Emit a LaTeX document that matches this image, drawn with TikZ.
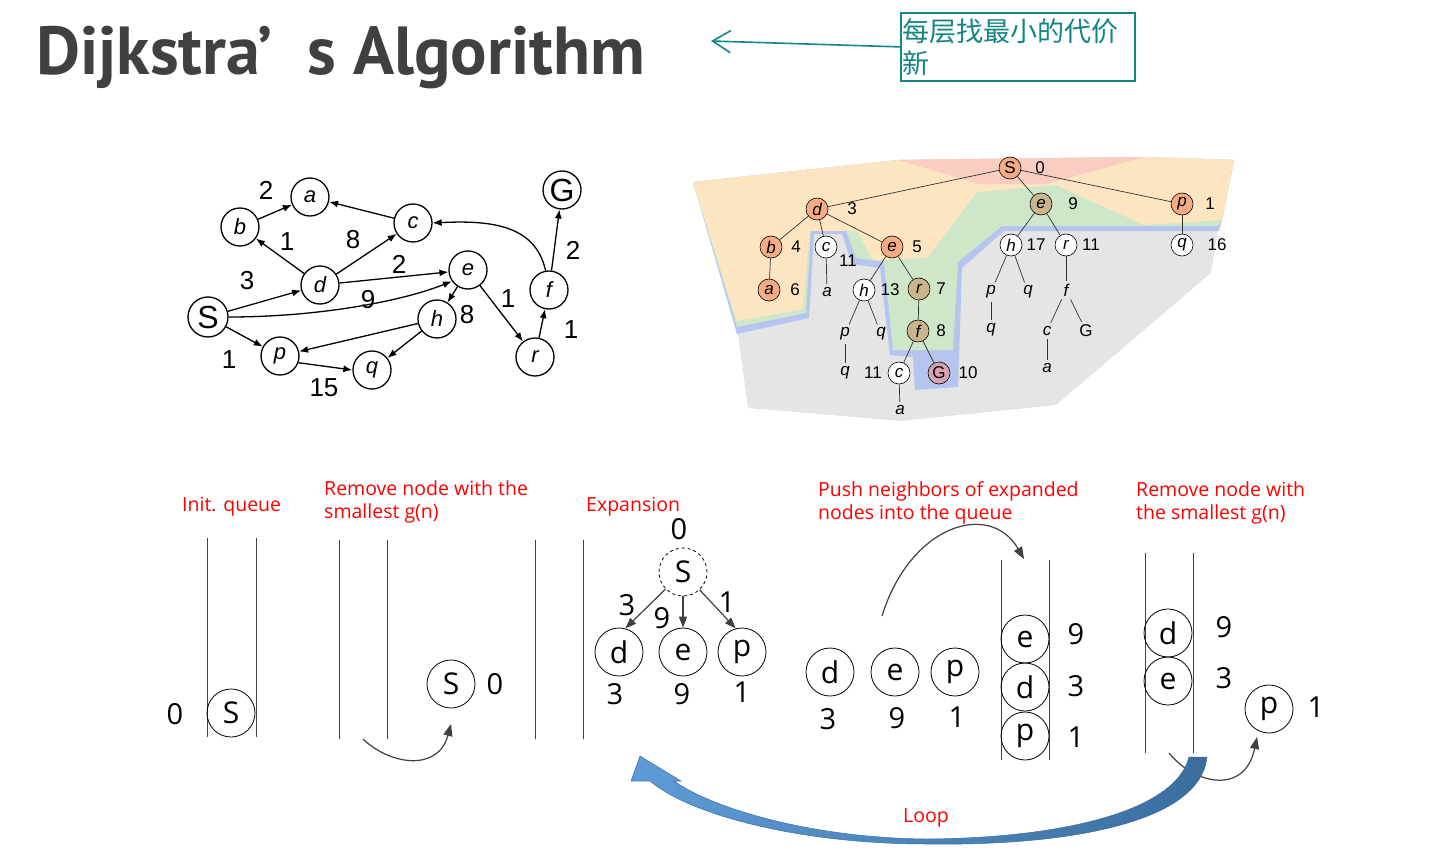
\documentclass[tikz,border=0pt]{standalone}
\usepackage{fontspec}
\setmainfont{Liberation Sans}
\newfontfamily\opensans{Open Sans}
\newfontfamily\ptsans{PT Sans}
\newfontfamily\cjk{Noto Sans CJK SC}
\usetikzlibrary{arrows.meta}
\definecolor{titlegray}{HTML}{404040}
\definecolor{noteteal}{HTML}{128584}
\definecolor{zoneorange}{HTML}{FDE5C2}
\definecolor{zonegreen}{HTML}{CFE7C9}
\definecolor{zoneblue}{HTML}{B5C5F0}
\definecolor{zonegray}{HTML}{E5E5E5}
\definecolor{zonepink}{HTML}{F9CDC0}
\definecolor{nodeorange}{HTML}{F5AB85}
\definecolor{nodetan}{HTML}{C9B48C}
\definecolor{nodepink}{HTML}{D8A2B2}
\definecolor{looplight}{HTML}{5E9BD6}
\definecolor{loopdark}{HTML}{3B6E9F}

\begin{document}
\begin{tikzpicture}[x=1pt,y=-1pt,
  gnode/.style={circle,draw,line width=1.3pt,minimum size=38pt,inner sep=0pt,font=\fontsize{22}{22}\selectfont\itshape},
  gbig/.style={gnode,minimum size=40pt,font=\fontsize{32}{32}\selectfont},
  gnum/.style={inner sep=0pt,font=\fontsize{26}{26}\selectfont},
  gedge/.style={-{Latex[length=9pt,width=7pt]},line width=1.3pt},
  tnode/.style={circle,draw,line width=.6pt,minimum size=22pt,inner sep=0pt,fill=white,font=\fontsize{17}{17}\selectfont\itshape},
  torange/.style={tnode,fill=nodeorange},
  ttan/.style={tnode,fill=nodetan},
  tword/.style={inner sep=3pt,font=\fontsize{17}{17}\selectfont\itshape},
  tnum/.style={inner sep=0pt,font=\fontsize{17}{17}\selectfont},
  tline/.style={line width=.7pt,draw=black!80},
  qnode/.style={circle,draw,line width=.8pt,minimum size=48pt,inner sep=0pt,font=\opensans\fontsize{30}{30}\selectfont},
  qnum/.style={inner sep=0pt,font=\opensans\fontsize{29}{29}\selectfont},
  qwall/.style={line width=.9pt,draw=black!75},
  qarrow/.style={-{Triangle[length=12pt,width=9pt]},line width=1.2pt,draw=black!75},
  redlab/.style={text=red,font=\opensans\fontsize{19.5}{23}\selectfont,align=left,anchor=north west,inner sep=0pt},
  notebox/.style={draw=noteteal,line width=1.8pt,text=noteteal,font=\cjk\fontsize{27}{32}\selectfont,align=left,text width=230pt,inner xsep=2pt,inner ysep=2pt,minimum height=68pt,anchor=north west}
]
\useasboundingbox (0,0) rectangle (1454,864);

% title and note
\node[anchor=base west,inner sep=0pt,text=titlegray,font=\ptsans\bfseries\fontsize{68}{68}\selectfont] (title) at (36,75) {Dijkstra’\hspace{35pt}s Algorithm};
\node[notebox] (note) at (900,12) {每层找最小的代价\\新};
\coordinate (notetip) at (711,41);
\draw[draw=noteteal,line width=1.6pt,-{Straight Barb[length=18pt,width=22pt]}] (note.west) -- (notetip);

% graph
\node[gbig] (gS) at (208,317) {S};
\node[gnode] (ga) at (310,197) {a};
\node[gnode] (gb) at (240,227) {b};
\node[gnode] (gc) at (413,223) {c};
\node[gnode] (gd) at (320,285) {d};
\node[gnode] (ge) at (468,270) {e};
\node[gnode] (gh) at (437,319) {h};
\node[gnode] (gp) at (280,356) {p};
\node[gnode] (gq) at (372,370) {q};
\node[gnode] (gr) at (535,357) {r};
\node[gnode] (gf) at (549,290) {f};
\node[gbig,minimum size=38pt] (gG) at (562,190) {G};
\draw[gedge] (gb) -- (ga);
\draw[gedge] (gc) -- (ga);
\draw[gedge] (gd) -- (gb);
\draw[gedge] (gd) -- (gc);
\draw[gedge] (gd) -- (ge);
\draw[gedge] (gS) -- (gd);
\draw[gedge] (gS.east) .. controls +(90,0) and +(-50,20) .. (ge.215);
\draw[gedge] (ge) -- (gh);
\draw[gedge] (ge) -- (gr);
\draw[gedge] (gh) -- (gp);
\draw[gedge] (gh) -- (gq);
\draw[gedge] (gS) -- (gp);
\draw[gedge] (gp.-20) -- (gq.west);
\draw[gedge] (gr) -- (gf);
\draw[gedge] (gf) -- (gG);
\draw[gedge] (gf.100) .. controls +(-10,-45) and +(60,-3) .. (gc.east);
\node[gnum] (w1) at (266,190) {2};
\node[gnum] (w2) at (287,242) {1};
\node[gnum] (w3) at (353,240) {8};
\node[gnum] (w4) at (247,281) {3};
\node[gnum] (w5) at (399,264) {2};
\node[gnum] (w6) at (368,300) {9};
\node[gnum] (w7) at (467,315) {8};
\node[gnum] (w8) at (508,299) {1};
\node[gnum] (w9) at (573,250) {2};
\node[gnum] (w10) at (571,330) {1};
\node[gnum] (w11) at (229,360) {1};
\node[gnum] (w12) at (324,388) {15};

% search tree zones
\fill[zonegray] (693,182) -- (898,160) -- (1144,157) -- (1234,160) -- (1222,220) -- (1218,228) -- (1211,273) -- (1056,405) -- (901,421) -- (748,408) -- (737,327) -- cycle;
\fill[zoneblue] (693,182) -- (898,160) -- (1144,157) -- (1234,160) -- (1222,220) -- (1219,231) -- (1004,231) -- (962,268) -- (958,387) -- (915,390) -- (913,357) -- (890,355) -- (880,268) -- (852,264) -- (842,234) -- (814,234) -- (809,318) -- (737,334) -- cycle;
\fill[zonegreen] (693,182) -- (898,160) -- (1144,157) -- (1234,160) -- (1222,220) -- (1218,226) -- (1002,226) -- (958,262) -- (953,350) -- (893,350) -- (884,262) -- (856,258) -- (846,231) -- (811,230) -- (806,313) -- (737,327) -- cycle;
\fill[zoneorange] (693,182) -- (898,160) -- (1144,157) -- (1234,160) -- (1222,220) -- (1144,225) -- (1056,185) -- (977,192) -- (927,258) -- (873,260) -- (857,231) -- (810,231) -- (803,309) -- (737,321) -- cycle;
\fill[zonepink] (898,160) -- (1144,157) -- (1046,184) -- (979,184) -- cycle;

% search tree
\node[torange,font=\fontsize{17}{17}\selectfont] (tS) at (1010,168) {S};
\node[torange] (td) at (817,209) {d};
\node[ttan] (te9) at (1041,204) {e};
\node[torange] (tp1) at (1182,204) {p};
\node[torange] (tb) at (771,247) {b};
\node[tnode] (tc11) at (826,247) {c};
\node[torange] (te5) at (892,247) {e};
\node[tnode] (th17) at (1011,245) {h};
\node[tnode] (tr11) at (1066,245) {r};
\node[tnode] (tq16) at (1182,245) {q};
\node[torange] (ta6) at (769,290) {a};
\node[tword] (xa1) at (827,292) {a};
\node[tnode] (th13) at (864,290) {h};
\node[ttan] (tr7) at (919,289) {r};
\node[tword] (xp1) at (991,292) {p};
\node[tword] (xq1) at (1028,292) {q};
\node[tword] (xf1) at (1066,290) {f};
\node[tword] (xp2) at (845,334) {p};
\node[tword] (xq2) at (881,334) {q};
\node[ttan] (tf8) at (918,331) {f};
\node[tword] (xq3) at (991,330) {q};
\node[tword] (xc1) at (1047,331) {c};
\node[tword,font=\fontsize{17}{17}\selectfont] (xG1) at (1086,331) {G};
\node[tword] (xq4) at (845,373) {q};
\node[tnode] (tc3) at (899,373) {c};
\node[tnode,fill=nodepink,font=\fontsize{17}{17}\selectfont] (tG) at (939,373) {G};
\node[tword] (xa2) at (1047,368) {a};
\node[tword] (xa3) at (900,410) {a};
\draw[tline] (tS) -- (td);
\draw[tline] (tS) -- (te9);
\draw[tline] (tS) -- (tp1);
\draw[tline] (td) -- (tb);
\draw[tline] (td) -- (tc11);
\draw[tline] (td) -- (te5);
\draw[tline] (tb) -- (ta6);
\draw[tline] (tc11) -- (xa1);
\draw[tline] (te5) -- (th13);
\draw[tline] (te5) -- (tr7);
\draw[tline] (th13) -- (xp2);
\draw[tline] (th13) -- (xq2);
\draw[tline] (xp2) -- (xq4);
\draw[tline] (tr7) -- (tf8);
\draw[tline] (tf8) -- (tc3);
\draw[tline] (tf8) -- (tG);
\draw[tline] (tc3) -- (xa3);
\draw[tline] (te9) -- (th17);
\draw[tline] (te9) -- (tr11);
\draw[tline] (th17) -- (xp1);
\draw[tline] (th17) -- (xq1);
\draw[tline] (xp1) -- (xq3);
\draw[tline] (tr11) -- (xf1);
\draw[tline] (xf1) -- (xc1);
\draw[tline] (xf1) -- (xG1);
\draw[tline] (xc1) -- (xa2);
\draw[tline] (tp1) -- (tq16);
\node[tnum] (n0) at (1040,168) {0};
\node[tnum] (n3) at (852,209) {3};
\node[tnum] (n9) at (1073,204) {9};
\node[tnum] (n1) at (1210,204) {1};
\node[tnum] (n4) at (796,247) {4};
\node[tnum] (n11a) at (848,261) {11};
\node[tnum] (n5) at (917,247) {5};
\node[tnum] (n17) at (1036,245) {17};
\node[tnum] (n11b) at (1091,245) {11};
\node[tnum] (n16) at (1217,245) {16};
\node[tnum] (n6) at (795,290) {6};
\node[tnum] (n13) at (890,290) {13};
\node[tnum] (n7) at (941,289) {7};
\node[tnum] (n8) at (941,331) {8};
\node[tnum] (n11c) at (873,373) {11};
\node[tnum] (n10) at (968,373) {10};

% red captions
\node[redlab] (cap1) at (182,496.5) {Init. queue};
\node[redlab] (cap2) at (324,480.5) {Remove node with the\\smallest g(n)};
\node[redlab] (cap3) at (586,497) {Expansion};
\node[redlab] (cap4) at (818,481.5) {Push neighbors of expanded\\nodes into the queue};
\node[redlab] (cap5) at (1136,481.5) {Remove node with\\the smallest g(n)};

% queue walls
\foreach \wx/\wt/\wb in {207/538/737, 256/538/737, 339/540/739, 387/540/739, 535/540/739, 583/540/739, 1001/560/760, 1049/560/760, 1145/553/753, 1193/553/753}
  \draw[qwall] (\wx,\wt) -- (\wx,\wb);

% step 1
\node[qnode] (q1S) at (231,713) {S};
\node[qnum] (q1n) at (175,714) {0};
% step 2
\node[qnode] (q2S) at (451,684) {S};
\node[qnum] (q2n) at (495,684) {0};
\coordinate (pop1a) at (363,739);
\coordinate (pop1b) at (451,724);
\draw[qarrow] (pop1a) .. controls (390,765) and (438,772) .. (pop1b);
% step 3
\node[qnode,dashed] (eS) at (683,572) {S};
\node[qnum] (eS0) at (679,529) {0};
\node[qnode] (ed) at (619,652) {d};
\node[qnode] (ee) at (683,652) {e};
\node[qnode] (ep) at (742,652) {p};
\draw[qarrow,-{Triangle[length=11pt,width=8pt]}] (eS) -- (ed.75);
\draw[qarrow,-{Triangle[length=11pt,width=8pt]}] (eS) -- (ee.north);
\draw[qarrow,-{Triangle[length=11pt,width=8pt]}] (eS) -- (ep.105);
\node[qnum] (ew3) at (627,605) {3};
\node[qnum] (ew9) at (662,618) {9};
\node[qnum] (ew1) at (727,602) {1};
\node[qnum] (ed3) at (615,694) {3};
\node[qnum] (ee9) at (682,694) {9};
\node[qnum] (ep1) at (742,692) {1};
% step 4
\node[qnode] (pd) at (830,672) {d};
\node[qnode] (pe) at (895,672) {e};
\node[qnode] (pp) at (955,672) {p};
\node[qnum] (pd3) at (828,719) {3};
\node[qnum] (pe9) at (897,718) {9};
\node[qnum] (pp1) at (957,717) {1};
\node[qnode] (k1) at (1025,639) {e};
\node[qnode] (k2) at (1025,687) {d};
\node[qnode] (k3) at (1025,736) {p};
\node[qnum] (k1n) at (1076,634) {9};
\node[qnum] (k2n) at (1076,686) {3};
\node[qnum] (k3n) at (1076,737) {1};
\coordinate (push1a) at (882,616);
\coordinate (push1b) at (1024,559);
\draw[qarrow] (push1a) .. controls (910,525) and (990,500) .. (push1b);
% step 5
\node[qnode] (m1) at (1168,633) {d};
\node[qnode] (m2) at (1168,681) {e};
\node[qnum] (m1n) at (1224,627) {9};
\node[qnum] (m2n) at (1224,678) {3};
\node[qnode] (mp) at (1269,709) {p};
\node[qnum] (mpn) at (1316,707) {1};
\coordinate (pop2a) at (1169,753);
\coordinate (pop2b) at (1257,737);
\draw[qarrow] (pop2a) .. controls (1195,785) and (1245,795) .. (pop2b);

% loop arrow
\shadedraw[left color=looplight,right color=loopdark,draw=loopdark,line width=.5pt]
  (1207,757) .. controls (1200,825) and (1060,846) .. (927,844)
  .. controls (800,844) and (690,815) .. (650,781) -- (631,781) -- (640,756) -- (681,781) -- (674,781)
  .. controls (712,808) and (810,838) .. (927,839)
  .. controls (1060,838) and (1175,812) .. (1189,757) -- cycle;
\node[text=red,inner sep=0pt,font=\opensans\fontsize{19.5}{19.5}\selectfont] (looplab) at (926,818) {Loop};
\end{tikzpicture}
\end{document}
